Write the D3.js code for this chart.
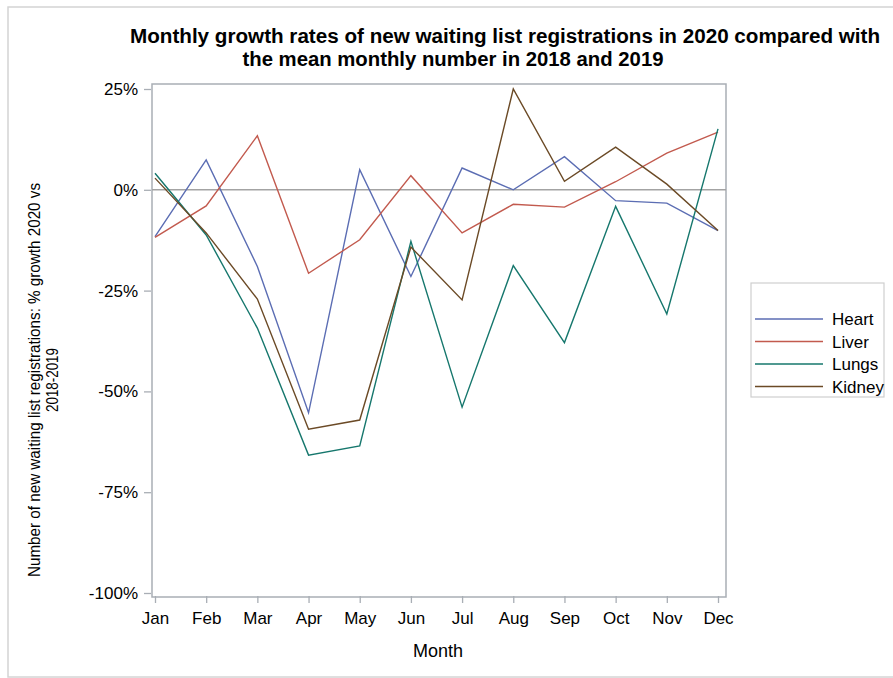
<!DOCTYPE html>
<html>
<head>
<meta charset="utf-8">
<script src="https://cdn.jsdelivr.net/npm/d3@7"></script>
<style>
  body { margin: 0; background: #fff; }
  text { font-family: "Liberation Sans", Arial, sans-serif; fill: #000; }
</style>
</head>
<body>
<div id="chart"></div>
<script>
// data (% growth 2020 vs mean 2018-2019)
var months = ["Jan","Feb","Mar","Apr","May","Jun","Jul","Aug","Sep","Oct","Nov","Dec"];
var heart  = [-11.6, 7.4, -19.0, -55.3, 5.0, -21.5, 5.4, 0.0, 8.2, -2.7, -3.3, -10.1];
var liver  = [-11.8, -4.0, 13.4, -20.7, -12.4, 3.5, -10.7, -3.6, -4.3, 2.0, 9.1, 14.3];
var lungs  = [4.1, -11.2, -34.3, -65.8, -63.5, -12.8, -53.9, -18.8, -37.9, -4.1, -30.8, 15.1];
var kidney = [2.9, -10.7, -27.1, -59.4, -57.1, -14.2, -27.3, 25.0, 2.1, 10.6, 1.4, -10.1];
var yTicks = [25, 0, -25, -50, -75, -100];

var series = [
    {name: "Heart",  values: heart,  color: "#5b6db3"},
    {name: "Liver",  values: liver,  color: "#c25a4e"},
    {name: "Lungs",  values: lungs,  color: "#16776d"},
    {name: "Kidney", values: kidney, color: "#6b4a26"}
];

var width = 893, height = 678;
var frame = {left: 152, right: 726, top: 84, bottom: 597};

var svg = d3.select("#chart").append("svg")
    .attr("width", width)
    .attr("height", height);

// outer border
svg.append("rect")
    .attr("x", 8).attr("y", 7)
    .attr("width", width).attr("height", height - 8)
    .attr("fill", "none").attr("stroke", "#d4d4d4").attr("stroke-width", 1.5);

var x = d3.scalePoint().domain(months).range([155, 718]);
var y = d3.scaleLinear().domain([-100, 25]).range([593, 89]);

// title
svg.append("text").attr("x", 505).attr("y", 43)
    .attr("text-anchor", "middle").attr("font-size", 20).attr("font-weight", "bold")
    .attr("textLength", 750).attr("lengthAdjust", "spacingAndGlyphs")
    .text("Monthly growth rates of new waiting list registrations in 2020 compared with");
svg.append("text").attr("x", 453).attr("y", 66)
    .attr("text-anchor", "middle").attr("font-size", 20).attr("font-weight", "bold")
    .attr("textLength", 421).attr("lengthAdjust", "spacingAndGlyphs")
    .text("the mean monthly number in 2018 and 2019");

// axes
var yAxis = d3.axisLeft(y).tickValues(yTicks).tickSize(7).tickPadding(6)
    .tickFormat(d => d + "%");
var gy = svg.append("g").attr("transform", "translate(" + (frame.left - 1) + ",0)").call(yAxis);
gy.select(".domain").remove();

var xAxis = d3.axisBottom(x).tickSize(7).tickPadding(9);
var gx = svg.append("g").attr("transform", "translate(0," + (frame.bottom - 1) + ")").call(xAxis);
gx.select(".domain").remove();

svg.selectAll(".tick line").attr("stroke", "#a9aeb5").attr("stroke-width", 1.3);
svg.selectAll(".tick text").attr("font-size", 17).attr("font-family", "Liberation Sans, Arial, sans-serif").attr("fill", "#111");

// plot frame
svg.append("rect")
    .attr("x", frame.left).attr("y", frame.top)
    .attr("width", frame.right - frame.left).attr("height", frame.bottom - frame.top)
    .attr("fill", "none").attr("stroke", "#a9aeb5").attr("stroke-width", 1.5);

// zero reference line
svg.append("line")
    .attr("x1", frame.left).attr("x2", frame.right)
    .attr("y1", y(0)).attr("y2", y(0))
    .attr("stroke", "#a3a3a3").attr("stroke-width", 1.5);

// lines
var line = d3.line().x((d, i) => x(months[i])).y(d => y(d));
svg.selectAll(".series").data(series).enter()
    .append("path")
    .attr("class", "series")
    .attr("d", d => line(d.values))
    .attr("fill", "none")
    .attr("stroke", d => d.color)
    .attr("stroke-width", 1.4);

// axis labels
svg.append("text").attr("x", 438).attr("y", 657)
    .attr("text-anchor", "middle").attr("font-size", 18).text("Month");

var yl = svg.append("g").attr("transform", "translate(40,380) rotate(-90)");
yl.append("text").attr("x", 0).attr("y", 0)
    .attr("text-anchor", "middle").attr("font-size", 17)
    .attr("textLength", 394).attr("lengthAdjust", "spacingAndGlyphs")
    .text("Number of new waiting list registrations: % growth 2020 vs");
yl.append("text").attr("x", 0).attr("y", 18)
    .attr("text-anchor", "middle").attr("font-size", 17)
    .attr("textLength", 64).attr("lengthAdjust", "spacingAndGlyphs")
    .text("2018-2019");

// legend
var lg = svg.append("g");
lg.append("rect").attr("x", 751).attr("y", 283).attr("width", 133).attr("height", 114)
    .attr("fill", "#fff").attr("stroke", "#cfcfcf").attr("stroke-width", 1.2);
var items = lg.selectAll(".item").data(series).enter().append("g")
    .attr("class", "item")
    .attr("transform", (d, i) => "translate(0," + (319 + i * 22.5) + ")");
items.append("line").attr("x1", 755).attr("x2", 823).attr("y1", 0).attr("y2", 0)
    .attr("stroke", d => d.color).attr("stroke-width", 1.6);
items.append("text").attr("x", 832).attr("y", 6)
    .attr("font-size", 17).text(d => d.name);
</script>
</body>
</html>
